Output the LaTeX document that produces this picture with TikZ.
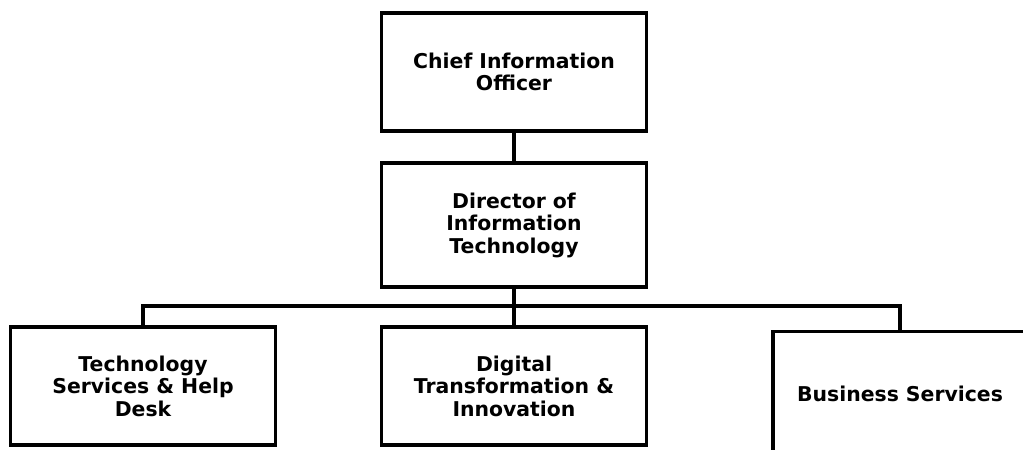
\documentclass[tikz,border=0pt]{standalone}
\usepackage{fontspec}
\setmainfont{DejaVu Sans}
\begin{document}
\begin{tikzpicture}[x=0.025cm,y=-0.025cm,
  post/.style={draw,line width=2.4pt,align=center,font=\bfseries\fontsize{14.5}{16}\selectfont,inner sep=0pt},
  link/.style={line width=2.4pt}]
\useasboundingbox (0,0) rectangle (1023,449);
\clip (0,0) rectangle (1023,449);
\node[post,minimum width=265*0.025cm,minimum height=118*0.025cm] (cio) at (514,72) {Chief Information\\Officer};
\node[post,minimum width=265*0.025cm,minimum height=124*0.025cm] (dir) at (514,225) {Director of\\Information\\Technology};
\node[post,minimum width=265*0.025cm,minimum height=118*0.025cm] (tsh) at (143,386) {Technology\\Services \& Help\\Desk};
\node[post,minimum width=265*0.025cm,minimum height=118*0.025cm] (dti) at (514,386) {Digital\\Transformation \&\\Innovation};
\node[post,minimum width=254*0.025cm,minimum height=125*0.025cm] (bus) at (900,394) {Business Services};
\coordinate (split) at (514,306);
\draw[link] (cio) -- (dir);
\draw[link] (dir) -- (dti);
\draw[link] (tsh.north) |- (split) -| (bus.north);
\end{tikzpicture}
\end{document}
